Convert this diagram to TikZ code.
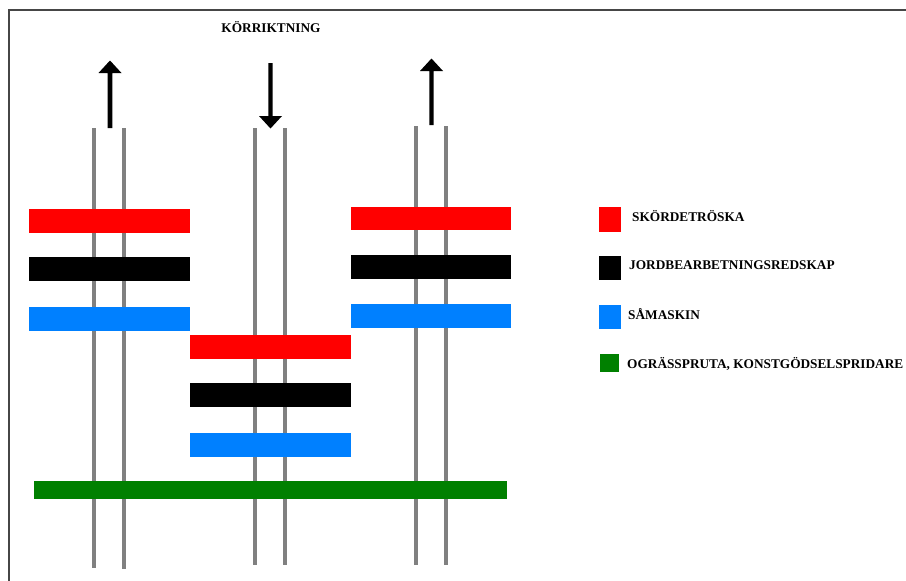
\documentclass[tikz,border=0pt]{standalone}
\usepackage{fontspec}
\setmainfont{Liberation Serif}
\definecolor{track}{RGB}{128,128,128}
\definecolor{frame}{RGB}{70,70,70}
\definecolor{harvester}{RGB}{255,0,0}
\definecolor{tiller}{RGB}{0,0,0}
\definecolor{seeder}{RGB}{0,128,255}
\definecolor{sprayer}{RGB}{0,128,0}
\tikzset{
  wheel/.style={draw=track, line width=3.8pt},
  label/.style={font=\bfseries\fontsize{13.3}{15}\selectfont, inner sep=0pt, text=black},
  dirarrow/.style={fill=black, draw=none}
}
\begin{document}
\begin{tikzpicture}[x=1pt, y=-1pt]
\useasboundingbox (0,0) rectangle (906,581);
\fill[white] (0,0) rectangle (906,581);

% frame (top and left edges)
\draw[frame, line width=2pt] (8.5,581) -- (8.5,10) -- (906,10);

% wheel tracks, three passes
\foreach \x/\t/\b in {94/128/568, 124/128/569, 255/128/565, 285/128/565, 416/126/565, 446/126/565}
  \draw[wheel] (\x,\t) -- (\x,\b);

% machine widths, pass 1
\fill[harvester] (29,209) rectangle (190,233);
\fill[tiller]    (29,257) rectangle (190,281);
\fill[seeder]    (29,307) rectangle (190,331);
% pass 2
\fill[harvester] (190,335) rectangle (351,359);
\fill[tiller]    (190,383) rectangle (351,407);
\fill[seeder]    (190,433) rectangle (351,457);
% pass 3
\fill[harvester] (351,207) rectangle (511,230);
\fill[tiller]    (351,255) rectangle (511,279);
\fill[seeder]    (351,304) rectangle (511,328);
% sprayer across all passes
\fill[sprayer] (34,481) rectangle (507,499);

% driving directions
\fill[dirarrow] (107.7,128) -- (107.7,73) -- (98.5,73) -- (110,60.5) -- (121.5,73) -- (112.3,73) -- (112.3,128) -- cycle;
\fill[dirarrow] (268.3,63) -- (268.3,116) -- (259,116) -- (270.5,128.5) -- (282,116) -- (272.7,116) -- (272.7,63) -- cycle;
\fill[dirarrow] (429.3,125) -- (429.3,71) -- (420,71) -- (431.5,58.5) -- (443,71) -- (433.7,71) -- (433.7,125) -- cycle;

\node[label] (title) at (271,27.5) {KÖRRIKTNING};

% legend
\fill[harvester] (599,207) rectangle (621,232);
\fill[tiller]    (599,256) rectangle (621,280);
\fill[seeder]    (599,305) rectangle (621,329);
\fill[sprayer]   (600,354) rectangle (619,372);
\node[label, anchor=base west] (lh) at (632,221) {SKÖRDETRÖSKA};
\node[label, anchor=base west] (lt) at (629,269) {JORDBEARBETNINGSREDSKAP};
\node[label, anchor=base west] (ls) at (628,319) {SÅMASKIN};
\node[label, anchor=base west] (lg) at (627,368) {OGRÄSSPRUTA, KONSTGÖDSELSPRIDARE};
\end{tikzpicture}
\end{document}
